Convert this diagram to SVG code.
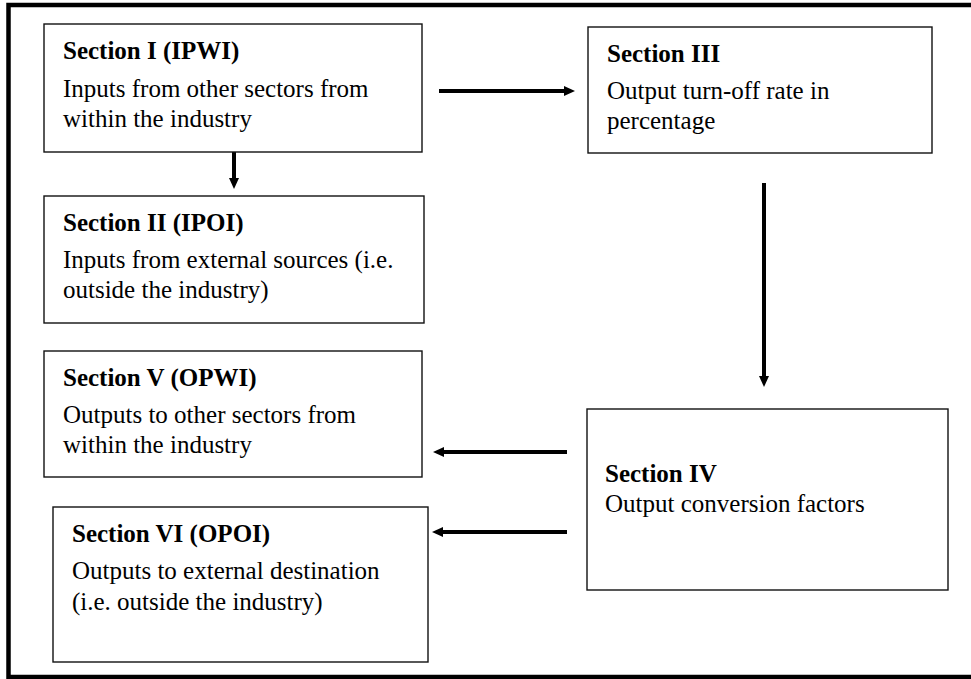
<svg xmlns="http://www.w3.org/2000/svg" width="971" height="679" viewBox="0 0 971 679">
<style>
.box{fill:#fff;stroke:#111;stroke-width:1.4}
.t{font-family:"Liberation Serif","Times New Roman",serif;font-size:25px;fill:#000}
.b{font-weight:bold}
.c{stroke:#000;stroke-width:4;fill:none}
.h{fill:#000}
</style>
<rect width="971" height="679" fill="#fff"/>
<path d="M973 5 H8.5 V677 H973" fill="none" stroke="#000" stroke-width="4.5"/>
<g id="connectors">
<line class="c" x1="439" y1="91" x2="566" y2="91"/>
<polygon class="h" points="575,91 564,86 564,96"/>
<line class="c" x1="234" y1="152" x2="234" y2="180"/>
<polygon class="h" points="234,189 229,178 239,178"/>
<line class="c" x1="764" y1="183" x2="764" y2="378"/>
<polygon class="h" points="764,387 759,376 769,376"/>
<line class="c" x1="567" y1="452" x2="442" y2="452"/>
<polygon class="h" points="433,452 444,447 444,457"/>
<line class="c" x1="567" y1="532" x2="441" y2="532"/>
<polygon class="h" points="432,532 443,527 443,537"/>
</g>
<g id="node-1">
<rect class="box" x="44" y="24" width="378" height="128"/>
<text class="t b" x="63" y="59">Section I (IPWI)</text>
<text class="t" x="63" y="97">Inputs from other sectors from</text>
<text class="t" x="63" y="127">within the industry</text>
</g>
<g id="node-2">
<rect class="box" x="44" y="196" width="380" height="127"/>
<text class="t b" x="63" y="231">Section II (IPOI)</text>
<text class="t" x="63" y="268">Inputs from external sources (i.e.</text>
<text class="t" x="63" y="298">outside the industry)</text>
</g>
<g id="node-3">
<rect class="box" x="588" y="27" width="344" height="126"/>
<text class="t b" x="607" y="62">Section III</text>
<text class="t" x="607" y="99">Output turn-off rate in</text>
<text class="t" x="607" y="129">percentage</text>
</g>
<g id="node-4">
<rect class="box" x="587" y="409" width="361" height="181"/>
<text class="t b" x="605" y="482">Section IV</text>
<text class="t" x="605" y="512">Output conversion factors</text>
</g>
<g id="node-5">
<rect class="box" x="44" y="351" width="378" height="126"/>
<text class="t b" x="63" y="386">Section V (OPWI)</text>
<text class="t" x="63" y="423">Outputs to other sectors from</text>
<text class="t" x="63" y="453">within the industry</text>
</g>
<g id="node-6">
<rect class="box" x="53" y="507" width="375" height="155"/>
<text class="t b" x="72" y="542">Section VI (OPOI)</text>
<text class="t" x="72" y="579">Outputs to external destination</text>
<text class="t" x="72" y="610">(i.e. outside the industry)</text>
</g>
</svg>
